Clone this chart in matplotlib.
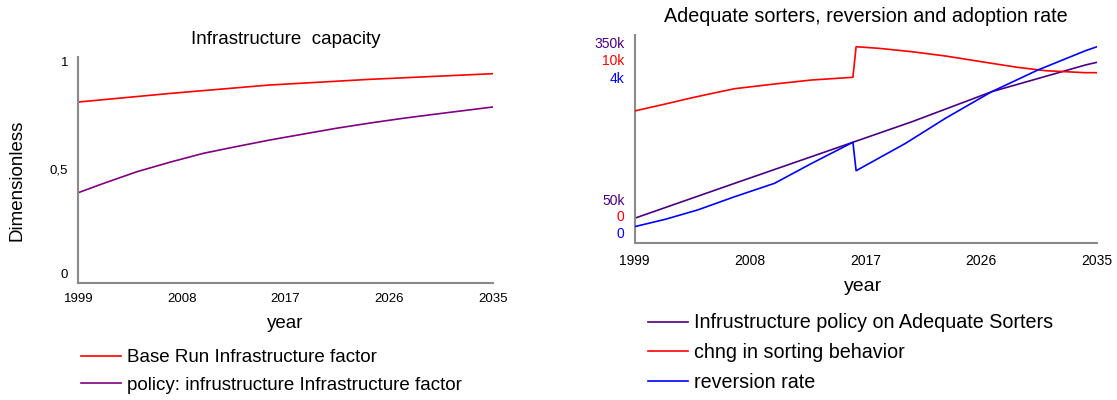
import numpy as np
import matplotlib.pyplot as plt

plt.rcParams['font.family'] = ['Liberation Sans', 'DejaVu Sans']

# left chart: Infrastructure capacity
base_years = [1999, 2007, 2015.6, 2024.3, 2035]
base_factor = [0.80, 0.838, 0.875, 0.90, 0.925]
policy_years = [1999, 2001.2, 2004.1, 2007, 2009.9, 2012.8, 2015.6, 2018.6,
                2021.4, 2024.3, 2027.2, 2030.1, 2035]
policy_factor = [0.40, 0.441, 0.4925, 0.535, 0.574, 0.604, 0.632, 0.659,
                 0.684, 0.707, 0.728, 0.747, 0.778]

# right chart: three series, each with its own scale
sorter_years = [1999, 2006.8, 2016, 2020.6, 2026.8, 2034.1, 2035]
sorters = [86000, 136400, 195500, 225100, 268300, 306800, 310700]
chng_years = [1999, 2001.4, 2003.5, 2005.3, 2006.8, 2009.9, 2012.8, 2016, 2016.25,
              2018, 2020.6, 2023.2, 2026.3, 2028.8, 2031, 2034.1, 2035]
chng = [6351, 6687, 6990, 7230, 7422, 7648, 7840, 7969, 9438,
        9361, 9198, 8992, 8689, 8449, 8286, 8190, 8190]
rev_years = [1999, 2001.4, 2003.9, 2006.8, 2009.9, 2012.8, 2016, 2016.25,
             2020.1, 2023.2, 2026.8, 2030.4, 2034.1, 2035]
reversion = [319, 461, 639, 895, 1152, 1536, 1940, 1394,
             1920, 2400, 2911, 3328, 3698, 3775]

year_ticks = [1999, 2008, 2017, 2026, 2035]
W, H = 1117, 400
px = 0.72  # points per pixel at dpi 100
spine_col = '#8a8a8a'

fig = plt.figure(figsize=(W / 100, H / 100), dpi=100)


def frame(ax):
    for s in ['top', 'right']:
        ax.spines[s].set_visible(False)
    for s in ['left', 'bottom']:
        ax.spines[s].set_color(spine_col)
        ax.spines[s].set_linewidth(1.5)
    ax.set_xlim(1999, 2035)
    ax.set_xticks(year_ticks)
    ax.set_yticks([])


def scale_label(ax, y, text, color, dy, fs):
    ax.annotate(text, xy=(0, y), xycoords=('axes fraction', 'data'),
                xytext=(-10 * px, dy * px), textcoords='offset points',
                ha='right', va='center', color=color, fontsize=fs)


# ---- left panel
ax1 = fig.add_axes([78.3 / W, 1 - 283.3 / H, 414.4 / W, 226.6 / H])
frame(ax1)
ax1.set_ylim(0, 1)
ax1.tick_params(axis='x', length=0, pad=7, labelsize=9.5)
l1, = ax1.plot(base_years, base_factor, color='#ff0000', lw=1.2,
               label='Base Run Infrastructure factor')
l2, = ax1.plot(policy_years, policy_factor, color='#800080', lw=1.2,
               label='policy: infrustructure Infrastructure factor')
scale_label(ax1, 1, '1', 'black', -6, 9.5)
scale_label(ax1, 0.5, '0,5', 'black', 0, 9.5)
scale_label(ax1, 0, '0', 'black', 8, 9.5)
fig.text(285.5 / W, 1 - 39 / H, 'Infrastructure  capacity', ha='center', va='center', fontsize=13.5)
fig.text(285.5 / W, 1 - 323 / H, 'year', ha='center', va='center', fontsize=13.5)
fig.text(17 / W, 1 - 180 / H, 'Dimensionless', ha='center', va='center',
         rotation=90, fontsize=13.5)
fig.legend(handles=[l1, l2], loc='upper left', bbox_to_anchor=(81 / W, 1 - 349 / H),
           frameon=False, fontsize=13.5, handlelength=2.15, handletextpad=0.3,
           labelspacing=0.57, borderpad=0, borderaxespad=0)

# ---- right panel
ax2 = fig.add_axes([634.5 / W, 1 - 243.3 / H, 462.5 / W, 208.3 / H])
frame(ax2)
ax2.tick_params(axis='x', length=0, pad=8, labelsize=10)
ax2.set_ylim(50000, 350000)
ax3 = ax2.twinx()
ax4 = ax2.twinx()
for a in (ax3, ax4):
    a.axis('off')
ax3.set_ylim(0, 10000)
ax4.set_ylim(0, 4000)
purple, red, blue = '#4b0082', '#ff0000', '#0000ff'
m1, = ax2.plot(sorter_years, sorters, color=purple, lw=1.2,
               label='Infrustructure policy on Adequate Sorters')
m2, = ax3.plot(chng_years, chng, color=red, lw=1.2, label='chng in sorting behavior')
m3, = ax4.plot(rev_years, reversion, color=blue, lw=1.2, label='reversion rate')
scale_label(ax2, 350000, '350k', purple, -9, 10)
scale_label(ax3, 10000, '10k', red, -26, 10)
scale_label(ax4, 4000, '4k', blue, -43.7, 10)
scale_label(ax2, 50000, '50k', purple, 42.6, 10)
scale_label(ax3, 0, '0', red, 26, 10)
scale_label(ax4, 0, '0', blue, 9.3, 10)
fig.text(866 / W, 1 - 16.7 / H, 'Adequate sorters, reversion and adoption rate',
         ha='center', va='center', fontsize=14.2)
fig.text(863 / W, 1 - 286.7 / H, 'year', ha='center', va='center', fontsize=14)
fig.legend(handles=[m1, m2, m3], loc='upper left', bbox_to_anchor=(648 / W, 1 - 313.5 / H),
           frameon=False, fontsize=14.2, handlelength=2.05, handletextpad=0.3,
           labelspacing=0.55, borderpad=0, borderaxespad=0)

fig.savefig('out.png', dpi=100)
